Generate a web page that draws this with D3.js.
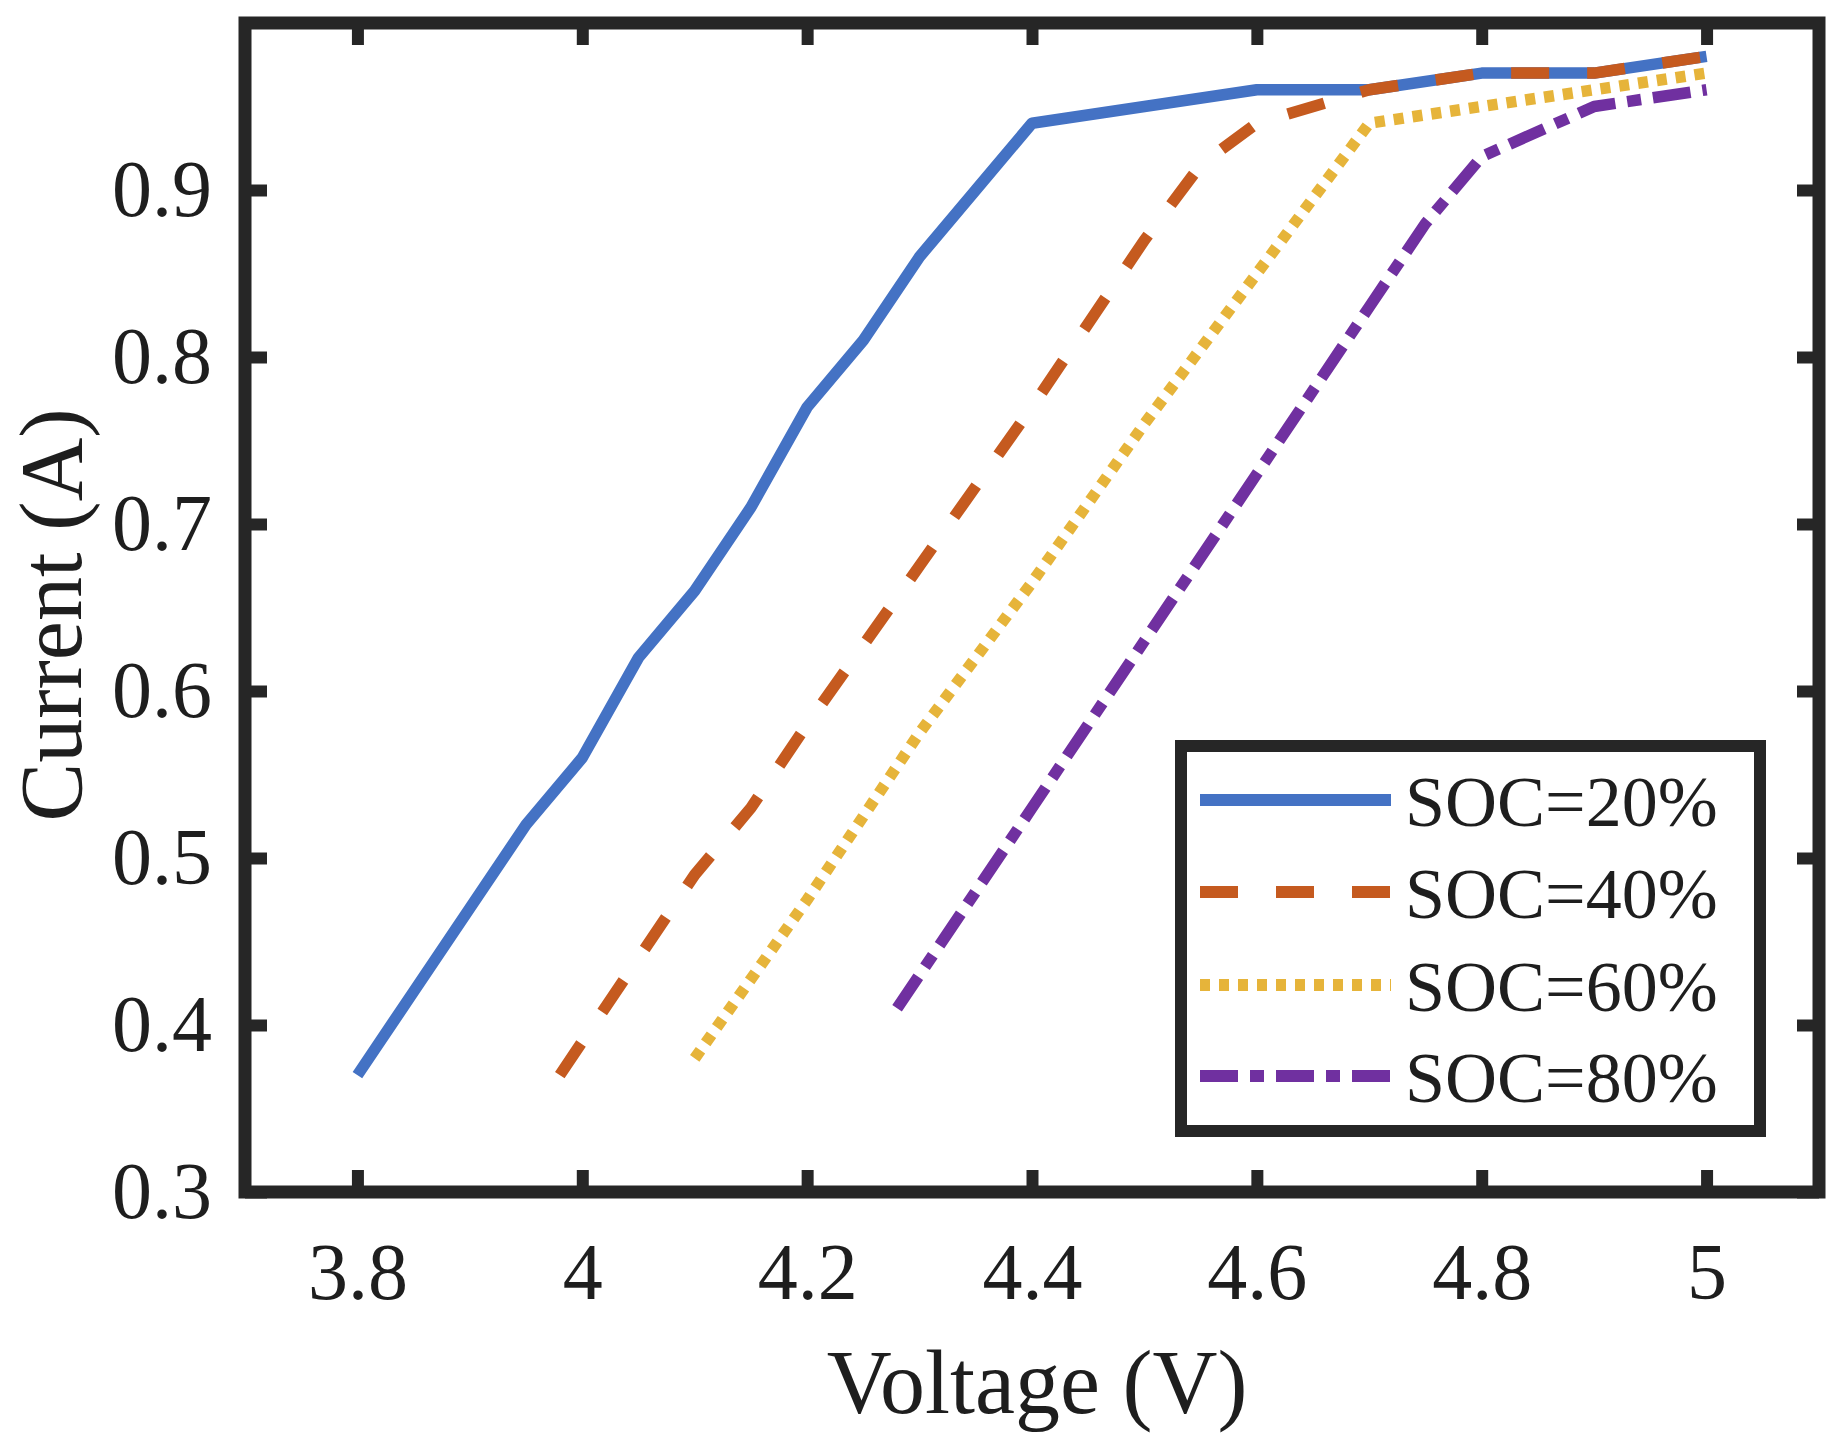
<!DOCTYPE html>
<html>
<head>
<meta charset="utf-8">
<script src="https://cdn.jsdelivr.net/npm/d3@7"></script>
<style>
  html, body { margin: 0; padding: 0; background: #ffffff; }
  svg { display: block; }
</style>
</head>
<body>
<script>
// ---- data ----
const seriesNames = ["SOC=20%", "SOC=40%", "SOC=60%", "SOC=80%"];
const voltage20 = [3.8, 3.85, 3.9, 3.95, 4.0, 4.05, 4.1, 4.15, 4.2, 4.25, 4.3, 4.35, 4.4, 4.5, 4.6, 4.7, 4.8, 4.9, 5.0];
const current20 = [0.37, 0.42, 0.47, 0.52, 0.56, 0.62, 0.66, 0.71, 0.77, 0.81, 0.86, 0.90, 0.94, 0.95, 0.96, 0.96, 0.97, 0.97, 0.98];
const voltage40 = [3.98, 4.05, 4.1, 4.15, 4.2, 4.3, 4.4, 4.5, 4.55, 4.6, 4.7, 4.8, 4.9, 5.0];
const current40 = [0.37, 0.44, 0.49, 0.53, 0.58, 0.675, 0.77, 0.87, 0.915, 0.94, 0.96, 0.97, 0.97, 0.98];
const voltage60 = [4.1, 4.2, 4.3, 4.4, 4.5, 4.6, 4.7, 4.8, 4.9, 5.0];
const current60 = [0.38, 0.475, 0.575, 0.665, 0.76, 0.85, 0.94, 0.95, 0.96, 0.97];
const voltage80 = [4.28, 4.4, 4.5, 4.6, 4.7, 4.75, 4.8, 4.9, 5.0];
const current80 = [0.41, 0.53, 0.63, 0.73, 0.83, 0.88, 0.92, 0.95, 0.96];
const xTicks = [3.8, 4.0, 4.2, 4.4, 4.6, 4.8, 5.0];
const xTickLabels = ["3.8", "4", "4.2", "4.4", "4.6", "4.8", "5"];
const yTicks = [0.3, 0.4, 0.5, 0.6, 0.7, 0.8, 0.9];
const yTickLabels = ["0.3", "0.4", "0.5", "0.6", "0.7", "0.8", "0.9"];
const xLabel = "Voltage (V)";
const yLabel = "Current (A)";

// ---- styles ----
const colors = ["#4472C4", "#C55A1F", "#E6B43A", "#7030A0"];
const dashes = [null, "38,38", "10,9", "38,12,14,12"];
const FONT = "'Liberation Serif', 'Times New Roman', Times, serif";
const INK = "#262626";

const W = 1843, H = 1443;
const L = 245, R = 1819, T = 23, B = 1192;

const svg = d3.select("body").append("svg").attr("width", W).attr("height", H);
svg.append("rect").attr("width", W).attr("height", H).attr("fill", "#fff");

const x = d3.scaleLinear().domain([3.7, 5.1]).range([L, R]);
const y = d3.scaleLinear().domain([0.3, 1.0]).range([B, T]);

const series = [
  { name: seriesNames[0], v: voltage20, c: current20 },
  { name: seriesNames[1], v: voltage40, c: current40 },
  { name: seriesNames[2], v: voltage60, c: current60 },
  { name: seriesNames[3], v: voltage80, c: current80 }
];

const line = d3.line().x(d => x(d[0])).y(d => y(d[1]));

series.forEach((s, i) => {
  const pts = s.v.map((v, k) => [v, s.c[k]]);
  svg.append("path")
    .datum(pts)
    .attr("d", line)
    .attr("fill", "none")
    .attr("stroke", colors[i])
    .attr("stroke-width", 11.5)
    .attr("stroke-linejoin", "round")
    .attr("stroke-linecap", "butt")
    .attr("stroke-dasharray", dashes[i]);
});

function styleAxis(g) {
  g.select(".domain").remove();
  g.selectAll(".tick line").attr("stroke", INK).attr("stroke-width", 12);
  g.selectAll(".tick text")
    .attr("fill", "#1e1e1e")
    .style("font-family", FONT)
    .style("font-size", "80px");
}

svg.append("g").attr("transform", `translate(0,${B})`)
  .call(d3.axisBottom(x).tickValues(xTicks).tickFormat((d, i) => xTickLabels[i])
    .tickSizeInner(-22).tickSizeOuter(0).tickPadding(50))
  .call(styleAxis);
svg.append("g").attr("transform", `translate(0,${T})`)
  .call(d3.axisTop(x).tickValues(xTicks).tickFormat("")
    .tickSizeInner(-22).tickSizeOuter(0))
  .call(styleAxis);
svg.append("g").attr("transform", `translate(${L},0)`)
  .call(d3.axisLeft(y).tickValues(yTicks).tickFormat((d, i) => yTickLabels[i])
    .tickSizeInner(-22).tickSizeOuter(0).tickPadding(33))
  .call(styleAxis);
svg.append("g").attr("transform", `translate(${R},0)`)
  .call(d3.axisRight(y).tickValues(yTicks).tickFormat("")
    .tickSizeInner(-22).tickSizeOuter(0))
  .call(styleAxis);

// frame
svg.append("rect")
  .attr("x", L).attr("y", T).attr("width", R - L).attr("height", B - T)
  .attr("fill", "none").attr("stroke", INK).attr("stroke-width", 13)
  .attr("stroke-linejoin", "miter");

// axis labels
svg.append("text")
  .attr("x", 1037).attr("y", 1413)
  .attr("text-anchor", "middle")
  .attr("fill", "#1e1e1e")
  .style("font-family", FONT).style("font-size", "90px")
  .text(xLabel);
svg.append("text")
  .attr("transform", "translate(81,615) rotate(-90)")
  .attr("text-anchor", "middle")
  .attr("fill", "#1e1e1e")
  .style("font-family", FONT).style("font-size", "88px")
  .text(yLabel);

// legend
const lg = svg.append("g");
lg.append("rect")
  .attr("x", 1181).attr("y", 746).attr("width", 579).attr("height", 385)
  .attr("fill", "#fff").attr("stroke", INK).attr("stroke-width", 12);
const rowY = [800, 892, 985, 1076];
series.forEach((s, i) => {
  lg.append("line")
    .attr("x1", 1200).attr("x2", 1391)
    .attr("y1", rowY[i]).attr("y2", rowY[i])
    .attr("stroke", colors[i]).attr("stroke-width", 12)
    .attr("stroke-dasharray", dashes[i]);
  lg.append("text")
    .attr("x", 1405).attr("y", rowY[i] + 26)
    .attr("fill", "#1e1e1e")
    .style("font-family", FONT).style("font-size", "72px")
    .text(s.name);
});
</script>
</body>
</html>
